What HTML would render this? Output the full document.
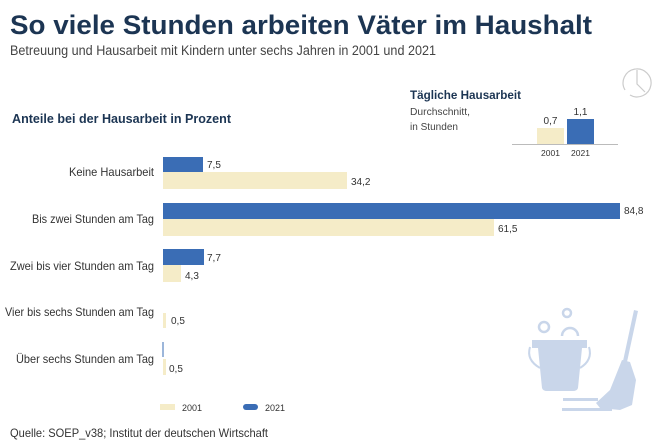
<!DOCTYPE html>
<html><head><meta charset="utf-8"><style>
html,body{margin:0;padding:0;background:#fff;}
svg{display:block;font-family:"Liberation Sans",sans-serif;}
</style></head><body>
<svg width="668" height="444" viewBox="0 0 668 444" xmlns="http://www.w3.org/2000/svg">
<rect width="668" height="444" fill="#fff"/>
<text x="10" y="34" font-size="27" font-weight="bold" fill="#1c3553" textLength="582" lengthAdjust="spacingAndGlyphs">So viele Stunden arbeiten Väter im Haushalt</text>
<text x="10" y="55" font-size="13.5" fill="#444" textLength="426" lengthAdjust="spacingAndGlyphs">Betreuung und Hausarbeit mit Kindern unter sechs Jahren in 2001 und 2021</text>
<text x="12" y="123" font-size="13" font-weight="bold" fill="#1c3553" textLength="219" lengthAdjust="spacingAndGlyphs">Anteile bei der Hausarbeit in Prozent</text>
<text x="410" y="99" font-size="12" font-weight="bold" fill="#1c3553" textLength="111" lengthAdjust="spacingAndGlyphs">Tägliche Hausarbeit</text>
<text x="410" y="115" font-size="10" fill="#444" textLength="60" lengthAdjust="spacingAndGlyphs">Durchschnitt,</text>
<text x="410" y="130" font-size="10" fill="#444" textLength="48" lengthAdjust="spacingAndGlyphs">in Stunden</text>
<!-- inset -->
<rect x="537" y="128" width="27" height="16" fill="#f5ecc8"/>
<rect x="567" y="119" width="27" height="25" fill="#3a6db5"/>
<line x1="512" y1="144.5" x2="618" y2="144.5" stroke="#bbb" stroke-width="1"/>
<text x="550.5" y="124" font-size="10" fill="#333" text-anchor="middle">0,7</text>
<text x="580.5" y="115" font-size="10" fill="#333" text-anchor="middle">1,1</text>
<text x="550.5" y="156" font-size="8.5" fill="#333" text-anchor="middle">2001</text>
<text x="580.5" y="156" font-size="8.5" fill="#333" text-anchor="middle">2021</text>
<!-- clock -->
<g fill="none" stroke="#ccc" stroke-width="1.2">
<path d="M625 90 A14 14 0 1 1 630 95"/>
<path d="M637 70 L637 84 L645 92"/>
</g>
<!-- labels -->
<g font-size="12" fill="#333">
<text x="69" y="176" textLength="85" lengthAdjust="spacingAndGlyphs">Keine Hausarbeit</text>
<text x="32" y="223" textLength="122" lengthAdjust="spacingAndGlyphs">Bis zwei Stunden am Tag</text>
<text x="10" y="270" textLength="144" lengthAdjust="spacingAndGlyphs">Zwei bis vier Stunden am Tag</text>
<text x="5" y="316" textLength="149" lengthAdjust="spacingAndGlyphs">Vier bis sechs Stunden am Tag</text>
<text x="16" y="363" textLength="138" lengthAdjust="spacingAndGlyphs">Über sechs Stunden am Tag</text>
</g>
<!-- bars -->
<rect x="163" y="157" width="40" height="15" fill="#3a6db5"/>
<rect x="163" y="172" width="184" height="17" fill="#f5ecc8"/>
<rect x="163" y="203" width="457" height="16" fill="#3a6db5"/>
<rect x="163" y="219" width="331" height="17" fill="#f5ecc8"/>
<rect x="163" y="249" width="41" height="16" fill="#3a6db5"/>
<rect x="163" y="265" width="18" height="17" fill="#f5ecc8"/>
<rect x="163" y="313" width="3" height="15" fill="#f5ecc8"/>
<rect x="162.5" y="342" width="1" height="15" fill="#3a6db5"/>
<rect x="163" y="359" width="3" height="16" fill="#f5ecc8"/>
<g font-size="10" fill="#333">
<text x="207" y="168">7,5</text>
<text x="351" y="185">34,2</text>
<text x="624" y="214">84,8</text>
<text x="498" y="232">61,5</text>
<text x="207" y="261">7,7</text>
<text x="185" y="279">4,3</text>
<text x="171" y="324">0,5</text>
<text x="169" y="372">0,5</text>
</g>
<!-- legend -->
<rect x="160" y="404" width="15" height="6" fill="#f5ecc8"/>
<text x="182" y="411" font-size="9" fill="#333">2001</text>
<rect x="243" y="404" width="15" height="6" rx="3" fill="#3a6db5"/>
<text x="265" y="411" font-size="9" fill="#333">2021</text>
<text x="10" y="437" font-size="12" fill="#333" textLength="258" lengthAdjust="spacingAndGlyphs">Quelle: SOEP_v38; Institut der deutschen Wirtschaft</text>
<!-- bucket & mop -->
<g fill="#c9d6ea" stroke="none">
<circle cx="544" cy="327" r="5" fill="none" stroke="#c9d6ea" stroke-width="2.5"/>
<circle cx="567" cy="313" r="4" fill="none" stroke="#c9d6ea" stroke-width="2.5"/>
<path d="M562 336 A8 8 0 0 1 578 336" fill="none" stroke="#c9d6ea" stroke-width="2.5"/>
<rect x="532" y="340" width="55" height="8"/>
<path d="M538 348 L582 348 L578 388 Q577 391 573 391 L547 391 Q543 391 542 388 Z"/>
<path d="M530 347 Q526 360 540 368" fill="none" stroke="#c9d6ea" stroke-width="2"/>
<path d="M589 347 Q593 360 580 368" fill="none" stroke="#c9d6ea" stroke-width="2"/>
<polygon points="634,310 638,311 627,362 623,361"/>
<polygon points="622,360 630,362 636,380 632,405 620,410 600,408 596,403 610,390"/>
<rect x="563" y="398" width="35" height="3"/>
<rect x="562" y="408" width="50" height="3"/>
</g>
</svg>
</body></html>
